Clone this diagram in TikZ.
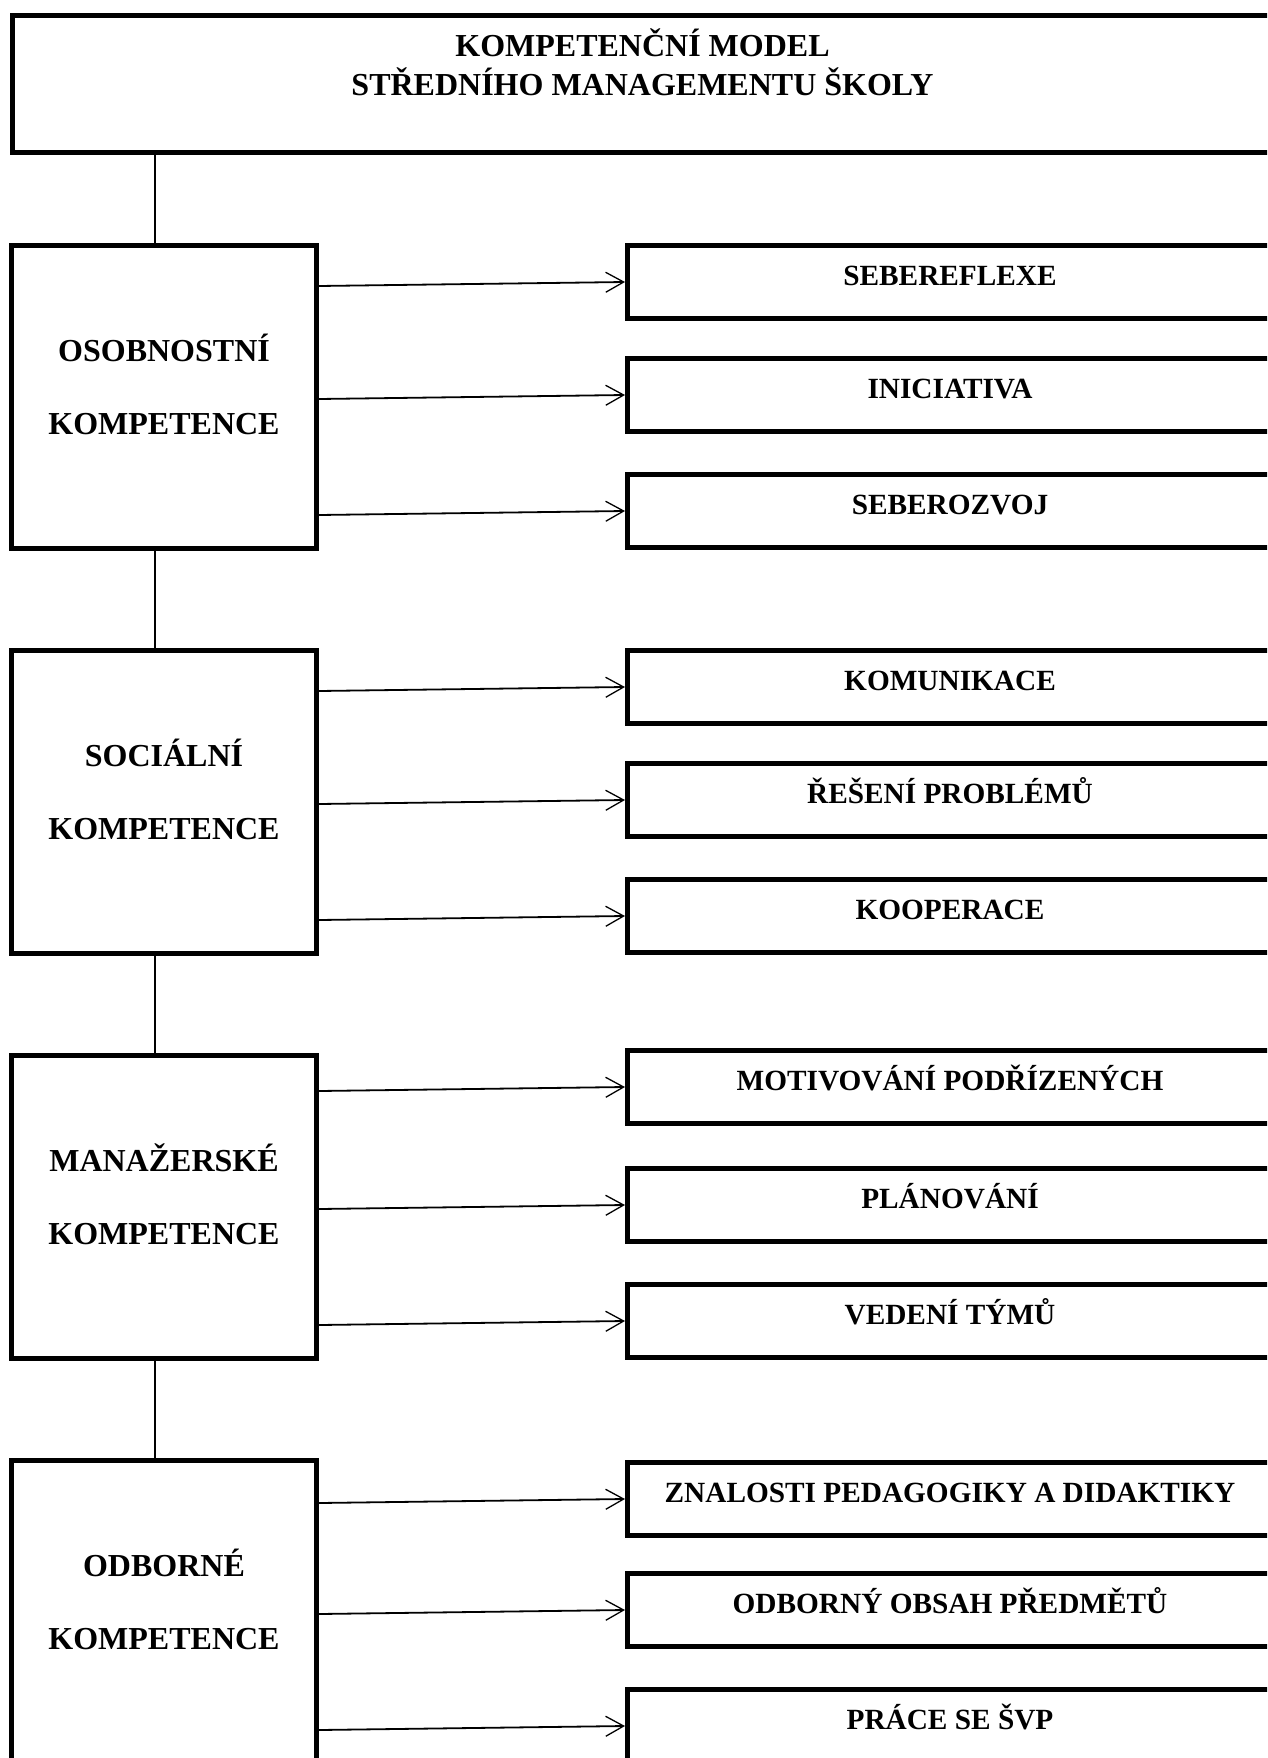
\documentclass[tikz,border=0pt]{standalone}
\usepackage{fontspec}
\setmainfont{Liberation Serif}
\usetikzlibrary{arrows.meta,calc}
\begin{document}
\begin{tikzpicture}[x=1pt,y=-1pt,
  thickbox/.style={draw=black, line width=5pt, rectangle, inner sep=0pt, anchor=north west},
  topbox/.style={thickbox, minimum width=1260pt, minimum height=137pt},
  lbox/.style={thickbox, minimum width=305pt, minimum height=303pt},
  rbox/.style={thickbox, minimum width=645pt, minimum height=72.5pt},
  ttext/.style={inner sep=0pt, anchor=base, font=\fontsize{32}{37.6}\selectfont\bfseries},
  ltext/.style={inner sep=0pt, anchor=base, font=\fontsize{32}{73}\selectfont\bfseries},
  rtext/.style={inner sep=0pt, anchor=base, font=\fontsize{29.3}{35}\selectfont\bfseries},
  conn/.style={draw=black, line width=1.4pt},
  arr/.style={draw=black, line width=1.8pt, -{Straight Barb[length=18pt,width=20pt,line width=1.3pt]}}
]
\useasboundingbox (0,0) rectangle (1267,1758);
\clip (0,0) rectangle (1267,1758);

% title
\node[topbox] (top) at (10,13) {};
\node[ttext] (toptext) at ($(top.north)+(0,43.7)$) {\begin{tabular}[t]{@{}c@{}}KOMPETENČNÍ MODEL\\STŘEDNÍHO MANAGEMENTU ŠKOLY\end{tabular}};

% left boxes
\node[lbox] (L1) at (9,243) {};
\node[lbox] (L2) at (9,648) {};
\node[lbox] (L3) at (9,1053) {};
\node[lbox, minimum height=400pt] (L4) at (9,1458) {};

\node[ltext] (lt1) at ($(L1.north)+(0,118)$) {\begin{tabular}[t]{@{}c@{}}OSOBNOSTNÍ\\KOMPETENCE\end{tabular}};
\node[ltext] (lt2) at ($(L2.north)+(0,118)$) {\begin{tabular}[t]{@{}c@{}}SOCIÁLNÍ\\KOMPETENCE\end{tabular}};
\node[ltext] (lt3) at ($(L3.north)+(0,118)$) {\begin{tabular}[t]{@{}c@{}}MANAŽERSKÉ\\KOMPETENCE\end{tabular}};
\node[ltext] (lt4) at ($(L4.north)+(0,118)$) {\begin{tabular}[t]{@{}c@{}}ODBORNÉ\\KOMPETENCE\end{tabular}};

% right boxes
\node[rbox] (R11) at (625,243) {};
\node[rbox] (R12) at (625,356) {};
\node[rbox] (R13) at (625,472) {};
\node[rbox] (R21) at (625,648) {};
\node[rbox] (R22) at (625,761) {};
\node[rbox] (R23) at (625,877) {};
\node[rbox] (R31) at (625,1048) {};
\node[rbox] (R32) at (625,1166) {};
\node[rbox] (R33) at (625,1282) {};
\node[rbox] (R41) at (625,1460) {};
\node[rbox] (R42) at (625,1571) {};
\node[rbox, minimum height=120pt] (R43) at (625,1687) {};

\node[rtext] (rt11) at ($(R11.north)+(0,42)$) {SEBEREFLEXE};
\node[rtext] (rt12) at ($(R12.north)+(0,42)$) {INICIATIVA};
\node[rtext] (rt13) at ($(R13.north)+(0,42)$) {SEBEROZVOJ};
\node[rtext] (rt21) at ($(R21.north)+(0,42)$) {KOMUNIKACE};
\node[rtext] (rt22) at ($(R22.north)+(0,42)$) {ŘEŠENÍ PROBLÉMŮ};
\node[rtext] (rt23) at ($(R23.north)+(0,42)$) {KOOPERACE};
\node[rtext] (rt31) at ($(R31.north)+(0,42)$) {MOTIVOVÁNÍ PODŘÍZENÝCH};
\node[rtext] (rt32) at ($(R32.north)+(0,42)$) {PLÁNOVÁNÍ};
\node[rtext] (rt33) at ($(R33.north)+(0,42)$) {VEDENÍ TÝMŮ};
\node[rtext] (rt41) at ($(R41.north)+(0,42)$) {ZNALOSTI PEDAGOGIKY A DIDAKTIKY};
\node[rtext] (rt42) at ($(R42.north)+(0,42)$) {ODBORNÝ OBSAH PŘEDMĚTŮ};
\node[rtext] (rt43) at ($(R43.north)+(0,42)$) {PRÁCE SE ŠVP};

% vertical connectors
\coordinate (c1) at ($(L1.north)+(-9,0)$);
\coordinate (c2) at ($(L2.north)+(-9,0)$);
\coordinate (c3) at ($(L3.north)+(-9,0)$);
\coordinate (c4) at ($(L4.north)+(-9,0)$);
\draw[conn] (c1) -- (c1 |- top.south);
\draw[conn] (c2) -- (c2 |- L1.south);
\draw[conn] (c3) -- (c3 |- L2.south);
\draw[conn] (c4) -- (c4 |- L3.south);

% arrows
\foreach \g in {1,2,3,4}{
  \foreach \r in {1,2,3}{
    \coordinate (e\g\r) at ($(R\g\r.north west)+(0,39)$);
    \draw[arr] ($(L\g.east |- e\g\r)+(0,4)$) -- (e\g\r);
  }
}
\end{tikzpicture}
\end{document}
